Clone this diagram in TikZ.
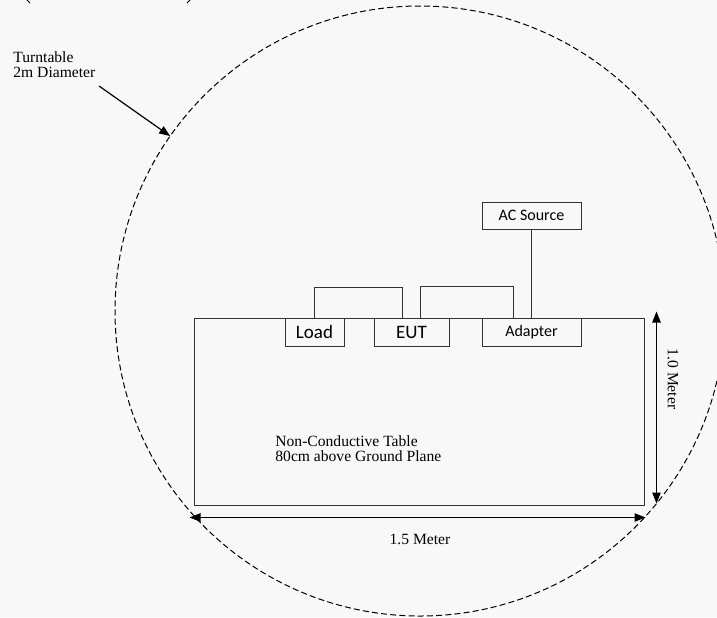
\documentclass[tikz,border=0pt]{standalone}
\usepackage{fontspec}
\setmainfont{Liberation Serif}
\newfontfamily\boxfont{Carlito}
\usetikzlibrary{arrows.meta}
\definecolor{bgcol}{RGB}{248,248,248}

\begin{document}
\begin{tikzpicture}[
  x=0.5pt, y=-0.5pt,
  box/.style={draw=black!80, line width=0.5pt, minimum height=14pt, inner sep=0pt, font=\boxfont\fontsize{9.5}{10}\selectfont},
  smallbox/.style={box, font=\boxfont\fontsize{8}{9}\selectfont},
  lbl/.style={inner sep=0pt, align=left, font=\fontsize{7.8}{7.6}\selectfont},
  wire/.style={draw=black!80, line width=0.5pt},
  dim/.style={line width=0.6pt, {Triangle[length=5.5pt,width=4.2pt]}-{Triangle[length=5.5pt,width=4.2pt]}}
]
  \fill[bgcol] (0,0) rectangle (717,617);
  \useasboundingbox (0,0) rectangle (717,617);

  % turntable and table
  \node[circle, draw, dash pattern=on 3pt off 1.6pt, line width=0.5pt, minimum size=305pt, inner sep=0pt, outer sep=0pt] (turntable) at (420,311) {};
  \node[draw=black!80, line width=0.5pt, minimum width=225pt, minimum height=93.5pt, inner sep=0pt] (table) at (419,411.5) {};

  \node[box, minimum width=29.5pt] (load) at (314.5,332) {Load};
  \node[box, minimum width=37.5pt] (eut) at (411.5,332) {EUT};
  \node[smallbox, minimum width=49.5pt] (adapter) at (531.5,332) {Adapter};
  \node[smallbox, minimum width=49.5pt, minimum height=13.5pt] (acsource) at (531.5,215.5) {AC Source};

  \draw[wire] (load.north) -- ++(0,-30) -| ([xshift=-4.75pt]eut.north);
  \draw[wire] ([xshift=4.25pt]eut.north) -- ++(0,-31) -| ([xshift=-9.25pt]adapter.north);
  \draw[wire] (acsource.south) -- (adapter.north);

  % dimensions
  \coordinate (vtop) at ([xshift=6pt,yshift=3pt]table.north east);
  \coordinate (vbot) at ([xshift=6pt,yshift=1pt]table.south east);
  \draw[dim] (vtop) -- (vbot);
  \coordinate (hleft) at ([xshift=-2pt,yshift=-6pt]table.south west);
  \coordinate (hright) at ([xshift=0.5pt,yshift=-6pt]table.south east);
  \draw[dim] (hleft) -- (hright);

  % labels
  \node[lbl, anchor=north west] (ttlabel) at (13,51) {Turntable\\2m Diameter};
  \coordinate (ttarrow) at (99,86);
  \draw[line width=0.6pt, -{Triangle[length=5.5pt,width=4.2pt]}] (ttarrow) -- (turntable.145.5);
  \node[lbl, anchor=north west] (tablelabel) at (275,435) {Non-Conductive Table\\80cm above Ground Plane};
  \node[lbl] (widthlabel) at (420,539) {1.5 Meter};
  \node[lbl, rotate=-90] (depthlabel) at (673,379) {1.0 Meter};

  % cut-off shape at the top
  \draw[line width=0.5pt] (24,-3) -- (30,3);
  \draw[line width=0.5pt] (193,-3) -- (187,3);
\end{tikzpicture}
\end{document}
